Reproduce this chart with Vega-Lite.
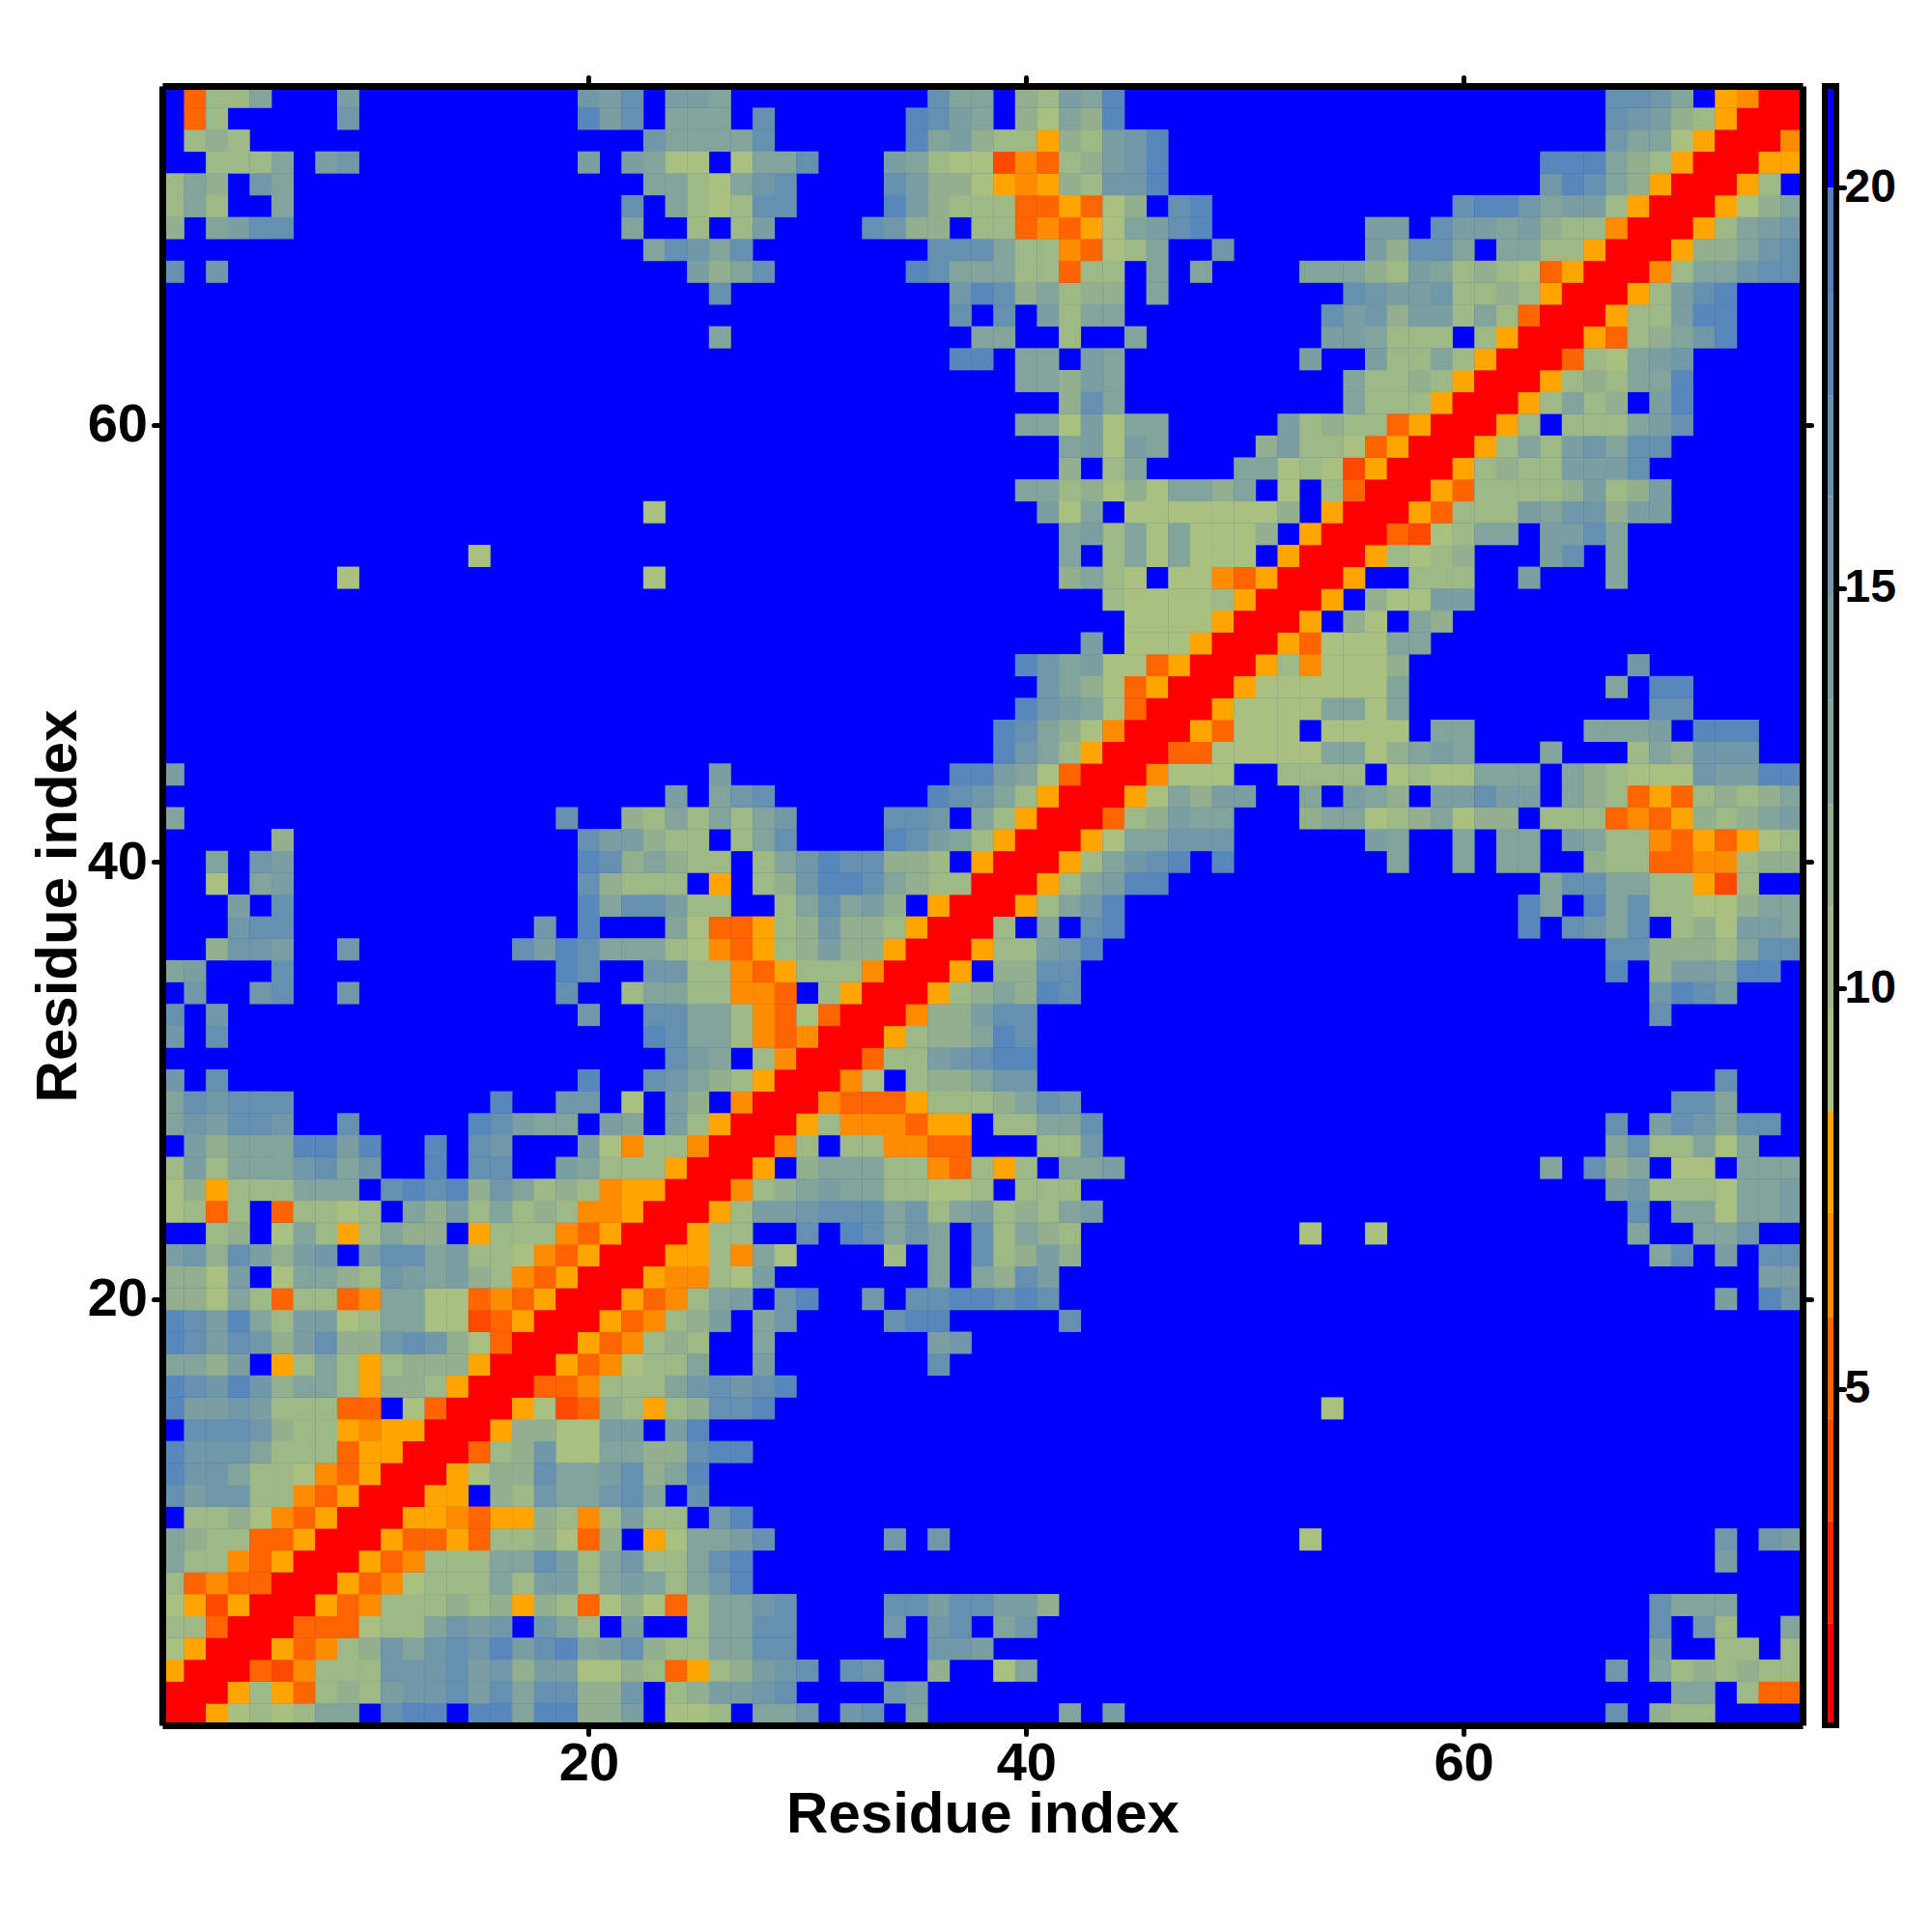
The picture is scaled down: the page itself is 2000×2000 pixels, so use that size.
{"$schema":"https://vega.github.io/schema/vega-lite/v6.json","background":"white","padding":{"left":30,"top":77,"right":0,"bottom":0},"bounds":"flush","spacing":23,
"config":{"font":"Liberation Sans","view":{"stroke":null}},
"datasets":{"bar":[{"lo":0.8,"hi":2.07,"d":1},{"lo":2.07,"hi":3.35,"d":3},{"lo":3.35,"hi":4.63,"d":4},{"lo":4.63,"hi":5.9,"d":5},{"lo":5.9,"hi":7.2,"d":6},{"lo":7.2,"hi":8.47,"d":8},{"lo":8.47,"hi":9.75,"d":9},{"lo":9.75,"hi":11.03,"d":10},{"lo":11.03,"hi":12.3,"d":12},{"lo":12.3,"hi":13.6,"d":13},{"lo":13.6,"hi":14.9,"d":14},{"lo":14.9,"hi":16.15,"d":15},{"lo":16.15,"hi":17.4,"d":17},{"lo":17.4,"hi":18.7,"d":18},{"lo":18.7,"hi":20,"d":19},{"lo":20,"hi":21.27,"d":21}],
"cells":[
{"i":1,"j":1,"d":1},{"i":2,"j":1,"d":1},{"i":3,"j":1,"d":8},{"i":4,"j":1,"d":9},{"i":5,"j":1,"d":10},{"i":6,"j":1,"d":9},{"i":7,"j":1,"d":10},{"i":8,"j":1,"d":13},{"i":9,"j":1,"d":13},{"i":11,"j":1,"d":17},{"i":12,"j":1,"d":18},{"i":13,"j":1,"d":18},{"i":15,"j":1,"d":18},{"i":16,"j":1,"d":18},{"i":17,"j":1,"d":13},{"i":18,"j":1,"d":18},{"i":19,"j":1,"d":18},{"i":20,"j":1,"d":12},{"i":21,"j":1,"d":12},{"i":22,"j":1,"d":14},{"i":24,"j":1,"d":9},{"i":25,"j":1,"d":9},{"i":26,"j":1,"d":10},{"i":28,"j":1,"d":13},{"i":29,"j":1,"d":13},{"i":30,"j":1,"d":15},{"i":32,"j":1,"d":15},{"i":33,"j":1,"d":17},{"i":35,"j":1,"d":13},{"i":42,"j":1,"d":13},{"i":44,"j":1,"d":14},{"i":67,"j":1,"d":17},{"i":69,"j":1,"d":12},{"i":70,"j":1,"d":10},{"i":71,"j":1,"d":10},
{"i":2,"j":2,"d":1},{"i":3,"j":2,"d":1},{"i":4,"j":2,"d":8},{"i":5,"j":2,"d":10},{"i":6,"j":2,"d":8},{"i":7,"j":2,"d":5},{"i":8,"j":2,"d":10},{"i":9,"j":2,"d":12},{"i":10,"j":2,"d":10},{"i":11,"j":2,"d":14},{"i":12,"j":2,"d":15},{"i":13,"j":2,"d":15},{"i":14,"j":2,"d":17},{"i":15,"j":2,"d":14},{"i":16,"j":2,"d":17},{"i":17,"j":2,"d":13},{"i":18,"j":2,"d":17},{"i":19,"j":2,"d":17},{"i":20,"j":2,"d":12},{"i":21,"j":2,"d":12},{"i":22,"j":2,"d":15},{"i":24,"j":2,"d":10},{"i":25,"j":2,"d":12},{"i":26,"j":2,"d":14},{"i":27,"j":2,"d":14},{"i":28,"j":2,"d":15},{"i":29,"j":2,"d":17},{"i":34,"j":2,"d":15},{"i":35,"j":2,"d":14},{"i":70,"j":2,"d":13},{"i":71,"j":2,"d":13},{"i":73,"j":2,"d":10},{"i":74,"j":2,"d":5},{"i":75,"j":2,"d":5},
{"i":3,"j":3,"d":1},{"i":4,"j":3,"d":1},{"i":5,"j":3,"d":5},{"i":6,"j":3,"d":4},{"i":7,"j":3,"d":6},{"i":8,"j":3,"d":10},{"i":9,"j":3,"d":10},{"i":10,"j":3,"d":10},{"i":11,"j":3,"d":15},{"i":12,"j":3,"d":15},{"i":13,"j":3,"d":15},{"i":14,"j":3,"d":17},{"i":15,"j":3,"d":14},{"i":16,"j":3,"d":15},{"i":17,"j":3,"d":12},{"i":18,"j":3,"d":14},{"i":19,"j":3,"d":14},{"i":20,"j":3,"d":9},{"i":21,"j":3,"d":9},{"i":22,"j":3,"d":12},{"i":23,"j":3,"d":10},{"i":24,"j":3,"d":5},{"i":25,"j":3,"d":8},{"i":26,"j":3,"d":10},{"i":27,"j":3,"d":12},{"i":28,"j":3,"d":14},{"i":29,"j":3,"d":15},{"i":30,"j":3,"d":17},{"i":32,"j":3,"d":17},{"i":33,"j":3,"d":15},{"i":36,"j":3,"d":12},{"i":39,"j":3,"d":9},{"i":40,"j":3,"d":13},{"i":67,"j":3,"d":15},{"i":69,"j":3,"d":13},{"i":70,"j":3,"d":10},{"i":71,"j":3,"d":12},{"i":72,"j":3,"d":10},{"i":73,"j":3,"d":12},{"i":74,"j":3,"d":10},{"i":75,"j":3,"d":10},
{"i":4,"j":4,"d":1},{"i":5,"j":4,"d":1},{"i":6,"j":4,"d":8},{"i":7,"j":4,"d":5},{"i":8,"j":4,"d":6},{"i":9,"j":4,"d":10},{"i":10,"j":4,"d":12},{"i":11,"j":4,"d":15},{"i":12,"j":4,"d":13},{"i":13,"j":4,"d":15},{"i":14,"j":4,"d":17},{"i":15,"j":4,"d":15},{"i":16,"j":4,"d":18},{"i":17,"j":4,"d":14},{"i":18,"j":4,"d":17},{"i":19,"j":4,"d":18},{"i":20,"j":4,"d":13},{"i":21,"j":4,"d":14},{"i":22,"j":4,"d":17},{"i":23,"j":4,"d":12},{"i":24,"j":4,"d":10},{"i":25,"j":4,"d":10},{"i":26,"j":4,"d":13},{"i":27,"j":4,"d":13},{"i":28,"j":4,"d":17},{"i":29,"j":4,"d":17},{"i":36,"j":4,"d":15},{"i":37,"j":4,"d":15},{"i":38,"j":4,"d":14},{"i":69,"j":4,"d":14},{"i":72,"j":4,"d":10},{"i":73,"j":4,"d":10},{"i":75,"j":4,"d":10},
{"i":5,"j":5,"d":1},{"i":6,"j":5,"d":1},{"i":7,"j":5,"d":5},{"i":8,"j":5,"d":5},{"i":9,"j":5,"d":5},{"i":10,"j":5,"d":9},{"i":11,"j":5,"d":10},{"i":12,"j":5,"d":10},{"i":13,"j":5,"d":13},{"i":14,"j":5,"d":15},{"i":15,"j":5,"d":14},{"i":16,"j":5,"d":15},{"i":18,"j":5,"d":15},{"i":19,"j":5,"d":13},{"i":20,"j":5,"d":10},{"i":22,"j":5,"d":14},{"i":25,"j":5,"d":10},{"i":26,"j":5,"d":13},{"i":27,"j":5,"d":13},{"i":28,"j":5,"d":17},{"i":29,"j":5,"d":17},{"i":34,"j":5,"d":15},{"i":36,"j":5,"d":15},{"i":37,"j":5,"d":17},{"i":39,"j":5,"d":13},{"i":40,"j":5,"d":15},{"i":69,"j":5,"d":17},{"i":71,"j":5,"d":15},{"i":72,"j":5,"d":10},{"i":75,"j":5,"d":13},
{"i":6,"j":6,"d":1},{"i":7,"j":6,"d":1},{"i":8,"j":6,"d":8},{"i":9,"j":6,"d":5},{"i":10,"j":6,"d":6},{"i":11,"j":6,"d":10},{"i":12,"j":6,"d":10},{"i":13,"j":6,"d":10},{"i":14,"j":6,"d":12},{"i":15,"j":6,"d":10},{"i":16,"j":6,"d":12},{"i":17,"j":6,"d":8},{"i":18,"j":6,"d":12},{"i":19,"j":6,"d":10},{"i":20,"j":6,"d":5},{"i":21,"j":6,"d":9},{"i":22,"j":6,"d":12},{"i":23,"j":6,"d":9},{"i":24,"j":6,"d":5},{"i":25,"j":6,"d":10},{"i":26,"j":6,"d":13},{"i":27,"j":6,"d":13},{"i":28,"j":6,"d":15},{"i":29,"j":6,"d":17},{"i":34,"j":6,"d":17},{"i":35,"j":6,"d":17},{"i":36,"j":6,"d":14},{"i":37,"j":6,"d":17},{"i":38,"j":6,"d":17},{"i":39,"j":6,"d":14},{"i":40,"j":6,"d":14},{"i":41,"j":6,"d":12},{"i":69,"j":6,"d":17},{"i":70,"j":6,"d":13},{"i":71,"j":6,"d":13},{"i":72,"j":6,"d":13},
{"i":7,"j":7,"d":1},{"i":8,"j":7,"d":1},{"i":9,"j":7,"d":8},{"i":10,"j":7,"d":5},{"i":11,"j":7,"d":6},{"i":12,"j":7,"d":9},{"i":13,"j":7,"d":10},{"i":14,"j":7,"d":10},{"i":15,"j":7,"d":10},{"i":16,"j":7,"d":13},{"i":17,"j":7,"d":10},{"i":18,"j":7,"d":14},{"i":19,"j":7,"d":14},{"i":20,"j":7,"d":10},{"i":21,"j":7,"d":13},{"i":22,"j":7,"d":14},{"i":23,"j":7,"d":13},{"i":24,"j":7,"d":10},{"i":25,"j":7,"d":13},{"i":26,"j":7,"d":15},{"i":27,"j":7,"d":18},
{"i":8,"j":8,"d":1},{"i":9,"j":8,"d":1},{"i":10,"j":8,"d":8},{"i":11,"j":8,"d":5},{"i":12,"j":8,"d":6},{"i":13,"j":8,"d":10},{"i":14,"j":8,"d":10},{"i":15,"j":8,"d":10},{"i":16,"j":8,"d":13},{"i":17,"j":8,"d":13},{"i":18,"j":8,"d":17},{"i":19,"j":8,"d":14},{"i":20,"j":8,"d":10},{"i":21,"j":8,"d":13},{"i":22,"j":8,"d":15},{"i":23,"j":8,"d":10},{"i":24,"j":8,"d":10},{"i":25,"j":8,"d":13},{"i":26,"j":8,"d":17},{"i":27,"j":8,"d":18},{"i":72,"j":8,"d":14},
{"i":9,"j":9,"d":1},{"i":10,"j":9,"d":1},{"i":11,"j":9,"d":8},{"i":12,"j":9,"d":5},{"i":13,"j":9,"d":5},{"i":14,"j":9,"d":8},{"i":15,"j":9,"d":5},{"i":16,"j":9,"d":10},{"i":17,"j":9,"d":10},{"i":18,"j":9,"d":12},{"i":19,"j":9,"d":9},{"i":20,"j":9,"d":5},{"i":21,"j":9,"d":12},{"i":23,"j":9,"d":8},{"i":24,"j":9,"d":9},{"i":25,"j":9,"d":13},{"i":26,"j":9,"d":13},{"i":27,"j":9,"d":14},{"i":28,"j":9,"d":17},{"i":34,"j":9,"d":15},{"i":36,"j":9,"d":15},{"i":53,"j":9,"d":9},{"i":72,"j":9,"d":15},{"i":74,"j":9,"d":15},{"i":75,"j":9,"d":14},
{"i":10,"j":10,"d":1},{"i":11,"j":10,"d":1},{"i":12,"j":10,"d":8},{"i":13,"j":10,"d":8},{"i":14,"j":10,"d":6},{"i":15,"j":10,"d":5},{"i":16,"j":10,"d":8},{"i":17,"j":10,"d":8},{"i":18,"j":10,"d":12},{"i":19,"j":10,"d":10},{"i":20,"j":10,"d":6},{"i":21,"j":10,"d":10},{"i":22,"j":10,"d":14},{"i":23,"j":10,"d":10},{"i":24,"j":10,"d":10},{"i":26,"j":10,"d":15},{"i":27,"j":10,"d":18},
{"i":11,"j":11,"d":1},{"i":12,"j":11,"d":1},{"i":13,"j":11,"d":8},{"i":14,"j":11,"d":8},{"i":16,"j":11,"d":12},{"i":17,"j":11,"d":10},{"i":18,"j":11,"d":15},{"i":19,"j":11,"d":13},{"i":20,"j":11,"d":13},{"i":21,"j":11,"d":15},{"i":22,"j":11,"d":17},{"i":23,"j":11,"d":13},{"i":25,"j":11,"d":17},
{"i":12,"j":12,"d":1},{"i":13,"j":12,"d":1},{"i":14,"j":12,"d":8},{"i":15,"j":12,"d":9},{"i":16,"j":12,"d":12},{"i":17,"j":12,"d":12},{"i":18,"j":12,"d":17},{"i":19,"j":12,"d":13},{"i":20,"j":12,"d":13},{"i":21,"j":12,"d":14},{"i":22,"j":12,"d":17},{"i":23,"j":12,"d":12},{"i":24,"j":12,"d":13},{"i":25,"j":12,"d":18},
{"i":13,"j":13,"d":1},{"i":14,"j":13,"d":1},{"i":15,"j":13,"d":5},{"i":16,"j":13,"d":10},{"i":17,"j":13,"d":12},{"i":18,"j":13,"d":15},{"i":19,"j":13,"d":9},{"i":20,"j":13,"d":9},{"i":21,"j":13,"d":13},{"i":22,"j":13,"d":13},{"i":23,"j":13,"d":12},{"i":24,"j":13,"d":12},{"i":25,"j":13,"d":17},{"i":26,"j":13,"d":18},{"i":27,"j":13,"d":18},
{"i":14,"j":14,"d":1},{"i":15,"j":14,"d":1},{"i":16,"j":14,"d":8},{"i":17,"j":14,"d":12},{"i":18,"j":14,"d":12},{"i":19,"j":14,"d":9},{"i":20,"j":14,"d":9},{"i":21,"j":14,"d":14},{"i":22,"j":14,"d":14},{"i":24,"j":14,"d":14},{"i":25,"j":14,"d":18},
{"i":15,"j":15,"d":1},{"i":16,"j":15,"d":1},{"i":17,"j":15,"d":8},{"i":18,"j":15,"d":9},{"i":19,"j":15,"d":4},{"i":20,"j":15,"d":5},{"i":21,"j":15,"d":12},{"i":22,"j":15,"d":10},{"i":23,"j":15,"d":8},{"i":24,"j":15,"d":10},{"i":25,"j":15,"d":12},{"i":26,"j":15,"d":17},{"i":27,"j":15,"d":17},{"i":28,"j":15,"d":18},{"i":54,"j":15,"d":9},
{"i":16,"j":16,"d":1},{"i":17,"j":16,"d":1},{"i":18,"j":16,"d":5},{"i":19,"j":16,"d":5},{"i":20,"j":16,"d":6},{"i":21,"j":16,"d":10},{"i":22,"j":16,"d":10},{"i":23,"j":16,"d":10},{"i":24,"j":16,"d":13},{"i":25,"j":16,"d":15},{"i":26,"j":16,"d":17},{"i":27,"j":16,"d":15},{"i":28,"j":16,"d":17},{"i":29,"j":16,"d":18},
{"i":17,"j":17,"d":1},{"i":18,"j":17,"d":1},{"i":19,"j":17,"d":8},{"i":20,"j":17,"d":5},{"i":21,"j":17,"d":6},{"i":22,"j":17,"d":9},{"i":23,"j":17,"d":10},{"i":24,"j":17,"d":10},{"i":25,"j":17,"d":13},{"i":28,"j":17,"d":14},{"i":36,"j":17,"d":17},
{"i":18,"j":18,"d":1},{"i":19,"j":18,"d":1},{"i":20,"j":18,"d":8},{"i":21,"j":18,"d":5},{"i":22,"j":18,"d":6},{"i":23,"j":18,"d":10},{"i":24,"j":18,"d":12},{"i":25,"j":18,"d":10},{"i":28,"j":18,"d":13},{"i":36,"j":18,"d":14},{"i":37,"j":18,"d":15},
{"i":19,"j":19,"d":1},{"i":20,"j":19,"d":1},{"i":21,"j":19,"d":8},{"i":22,"j":19,"d":5},{"i":23,"j":19,"d":6},{"i":24,"j":19,"d":10},{"i":25,"j":19,"d":12},{"i":26,"j":19,"d":14},{"i":28,"j":19,"d":13},{"i":29,"j":19,"d":15},{"i":34,"j":19,"d":17},{"i":35,"j":19,"d":18},{"i":36,"j":19,"d":18},{"i":42,"j":19,"d":17},
{"i":20,"j":20,"d":1},{"i":21,"j":20,"d":1},{"i":22,"j":20,"d":8},{"i":23,"j":20,"d":5},{"i":24,"j":20,"d":6},{"i":25,"j":20,"d":10},{"i":26,"j":20,"d":13},{"i":27,"j":20,"d":14},{"i":29,"j":20,"d":15},{"i":30,"j":20,"d":18},{"i":33,"j":20,"d":15},{"i":35,"j":20,"d":17},{"i":36,"j":20,"d":17},{"i":37,"j":20,"d":18},{"i":38,"j":20,"d":18},{"i":39,"j":20,"d":17},{"i":40,"j":20,"d":18},{"i":41,"j":20,"d":17},{"i":72,"j":20,"d":14},{"i":74,"j":20,"d":18},{"i":75,"j":20,"d":15},
{"i":21,"j":21,"d":1},{"i":22,"j":21,"d":1},{"i":23,"j":21,"d":8},{"i":24,"j":21,"d":6},{"i":25,"j":21,"d":6},{"i":26,"j":21,"d":10},{"i":27,"j":21,"d":9},{"i":28,"j":21,"d":14},{"i":36,"j":21,"d":13},{"i":38,"j":21,"d":13},{"i":39,"j":21,"d":12},{"i":40,"j":21,"d":17},{"i":41,"j":21,"d":14},{"i":74,"j":21,"d":14},{"i":75,"j":21,"d":14},
{"i":22,"j":22,"d":1},{"i":23,"j":22,"d":1},{"i":24,"j":22,"d":8},{"i":25,"j":22,"d":8},{"i":26,"j":22,"d":10},{"i":27,"j":22,"d":6},{"i":28,"j":22,"d":13},{"i":29,"j":22,"d":9},{"i":34,"j":22,"d":10},{"i":36,"j":22,"d":13},{"i":38,"j":22,"d":17},{"i":39,"j":22,"d":10},{"i":40,"j":22,"d":12},{"i":41,"j":22,"d":14},{"i":42,"j":22,"d":12},{"i":69,"j":22,"d":13},{"i":70,"j":22,"d":17},{"i":72,"j":22,"d":14},{"i":74,"j":22,"d":17},{"i":75,"j":22,"d":17},
{"i":23,"j":23,"d":1},{"i":24,"j":23,"d":1},{"i":25,"j":23,"d":8},{"i":26,"j":23,"d":10},{"i":27,"j":23,"d":10},{"i":30,"j":23,"d":17},{"i":32,"j":23,"d":18},{"i":33,"j":23,"d":17},{"i":34,"j":23,"d":13},{"i":35,"j":23,"d":15},{"i":36,"j":23,"d":13},{"i":38,"j":23,"d":17},{"i":39,"j":23,"d":10},{"i":40,"j":23,"d":13},{"i":41,"j":23,"d":12},{"i":42,"j":23,"d":10},{"i":53,"j":23,"d":9},{"i":56,"j":23,"d":9},{"i":68,"j":23,"d":13},{"i":71,"j":23,"d":13},{"i":72,"j":23,"d":13},{"i":73,"j":23,"d":15},
{"i":24,"j":24,"d":1},{"i":25,"j":24,"d":1},{"i":26,"j":24,"d":8},{"i":27,"j":24,"d":10},{"i":28,"j":24,"d":14},{"i":29,"j":24,"d":14},{"i":30,"j":24,"d":15},{"i":31,"j":24,"d":17},{"i":32,"j":24,"d":17},{"i":33,"j":24,"d":17},{"i":34,"j":24,"d":13},{"i":35,"j":24,"d":15},{"i":36,"j":24,"d":10},{"i":37,"j":24,"d":13},{"i":38,"j":24,"d":14},{"i":39,"j":24,"d":10},{"i":40,"j":24,"d":12},{"i":41,"j":24,"d":10},{"i":42,"j":24,"d":13},{"i":43,"j":24,"d":14},{"i":68,"j":24,"d":17},{"i":70,"j":24,"d":13},{"i":71,"j":24,"d":13},{"i":72,"j":24,"d":9},{"i":73,"j":24,"d":13},{"i":74,"j":24,"d":13},{"i":75,"j":24,"d":14},
{"i":25,"j":25,"d":1},{"i":26,"j":25,"d":1},{"i":27,"j":25,"d":6},{"i":28,"j":25,"d":10},{"i":29,"j":25,"d":12},{"i":30,"j":25,"d":13},{"i":31,"j":25,"d":14},{"i":32,"j":25,"d":13},{"i":33,"j":25,"d":13},{"i":34,"j":25,"d":10},{"i":35,"j":25,"d":10},{"i":36,"j":25,"d":9},{"i":37,"j":25,"d":9},{"i":38,"j":25,"d":10},{"i":40,"j":25,"d":10},{"i":41,"j":25,"d":10},{"i":42,"j":25,"d":10},{"i":67,"j":25,"d":14},{"i":68,"j":25,"d":15},{"i":69,"j":25,"d":10},{"i":70,"j":25,"d":10},{"i":71,"j":25,"d":10},{"i":72,"j":25,"d":9},{"i":73,"j":25,"d":13},{"i":74,"j":25,"d":13},{"i":75,"j":25,"d":14},
{"i":26,"j":26,"d":1},{"i":27,"j":26,"d":1},{"i":28,"j":26,"d":8},{"i":30,"j":26,"d":12},{"i":31,"j":26,"d":13},{"i":32,"j":26,"d":13},{"i":33,"j":26,"d":13},{"i":34,"j":26,"d":10},{"i":35,"j":26,"d":10},{"i":36,"j":26,"d":6},{"i":37,"j":26,"d":5},{"i":38,"j":26,"d":10},{"i":39,"j":26,"d":8},{"i":40,"j":26,"d":10},{"i":42,"j":26,"d":13},{"i":43,"j":26,"d":13},{"i":44,"j":26,"d":14},{"i":64,"j":26,"d":13},{"i":66,"j":26,"d":17},{"i":67,"j":26,"d":12},{"i":68,"j":26,"d":13},{"i":70,"j":26,"d":9},{"i":71,"j":26,"d":9},{"i":73,"j":26,"d":13},{"i":74,"j":26,"d":13},{"i":75,"j":26,"d":13},
{"i":27,"j":27,"d":1},{"i":28,"j":27,"d":1},{"i":29,"j":27,"d":6},{"i":30,"j":27,"d":10},{"i":32,"j":27,"d":10},{"i":33,"j":27,"d":10},{"i":34,"j":27,"d":6},{"i":35,"j":27,"d":6},{"i":36,"j":27,"d":5},{"i":37,"j":27,"d":5},{"i":41,"j":27,"d":10},{"i":42,"j":27,"d":10},{"i":43,"j":27,"d":15},{"i":67,"j":27,"d":13},{"i":68,"j":27,"d":17},{"i":69,"j":27,"d":10},{"i":70,"j":27,"d":10},{"i":71,"j":27,"d":13},{"i":72,"j":27,"d":9},{"i":73,"j":27,"d":13},
{"i":28,"j":28,"d":1},{"i":29,"j":28,"d":1},{"i":30,"j":28,"d":8},{"i":31,"j":28,"d":10},{"i":32,"j":28,"d":6},{"i":33,"j":28,"d":6},{"i":34,"j":28,"d":6},{"i":35,"j":28,"d":5},{"i":36,"j":28,"d":8},{"i":37,"j":28,"d":8},{"i":39,"j":28,"d":10},{"i":40,"j":28,"d":10},{"i":41,"j":28,"d":13},{"i":42,"j":28,"d":13},{"i":43,"j":28,"d":17},{"i":67,"j":28,"d":17},{"i":69,"j":28,"d":14},{"i":70,"j":28,"d":17},{"i":71,"j":28,"d":15},{"i":72,"j":28,"d":13},{"i":73,"j":28,"d":17},{"i":74,"j":28,"d":17},
{"i":29,"j":29,"d":1},{"i":30,"j":29,"d":1},{"i":31,"j":29,"d":6},{"i":32,"j":29,"d":5},{"i":33,"j":29,"d":5},{"i":34,"j":29,"d":5},{"i":35,"j":29,"d":8},{"i":36,"j":29,"d":10},{"i":37,"j":29,"d":10},{"i":38,"j":29,"d":10},{"i":39,"j":29,"d":12},{"i":40,"j":29,"d":13},{"i":41,"j":29,"d":17},{"i":42,"j":29,"d":15},{"i":70,"j":29,"d":17},{"i":71,"j":29,"d":17},{"i":72,"j":29,"d":13},
{"i":30,"j":30,"d":1},{"i":31,"j":30,"d":1},{"i":32,"j":30,"d":6},{"i":33,"j":30,"d":9},{"i":35,"j":30,"d":10},{"i":36,"j":30,"d":12},{"i":37,"j":30,"d":12},{"i":38,"j":30,"d":13},{"i":39,"j":30,"d":15},{"i":40,"j":30,"d":15},{"i":72,"j":30,"d":17},
{"i":31,"j":31,"d":1},{"i":32,"j":31,"d":1},{"i":33,"j":31,"d":5},{"i":34,"j":31,"d":10},{"i":35,"j":31,"d":10},{"i":36,"j":31,"d":14},{"i":37,"j":31,"d":15},{"i":38,"j":31,"d":17},{"i":39,"j":31,"d":18},{"i":40,"j":31,"d":18},
{"i":32,"j":32,"d":1},{"i":33,"j":32,"d":1},{"i":34,"j":32,"d":8},{"i":35,"j":32,"d":10},{"i":36,"j":32,"d":12},{"i":37,"j":32,"d":12},{"i":38,"j":32,"d":13},{"i":39,"j":32,"d":18},{"i":40,"j":32,"d":17},
{"i":33,"j":33,"d":1},{"i":34,"j":33,"d":1},{"i":35,"j":33,"d":6},{"i":36,"j":33,"d":12},{"i":37,"j":33,"d":12},{"i":38,"j":33,"d":14},{"i":39,"j":33,"d":17},{"i":40,"j":33,"d":17},{"i":69,"j":33,"d":17},
{"i":34,"j":34,"d":1},{"i":35,"j":34,"d":1},{"i":36,"j":34,"d":8},{"i":37,"j":34,"d":10},{"i":38,"j":34,"d":12},{"i":39,"j":34,"d":13},{"i":40,"j":34,"d":12},{"i":41,"j":34,"d":18},{"i":42,"j":34,"d":17},{"i":69,"j":34,"d":15},{"i":70,"j":34,"d":18},{"i":71,"j":34,"d":17},{"i":72,"j":34,"d":14},
{"i":35,"j":35,"d":1},{"i":36,"j":35,"d":1},{"i":37,"j":35,"d":8},{"i":39,"j":35,"d":12},{"i":40,"j":35,"d":12},{"i":41,"j":35,"d":17},{"i":42,"j":35,"d":17},{"i":67,"j":35,"d":18},{"i":69,"j":35,"d":12},{"i":70,"j":35,"d":14},{"i":71,"j":35,"d":14},{"i":72,"j":35,"d":13},{"i":73,"j":35,"d":18},{"i":74,"j":35,"d":18},
{"i":36,"j":36,"d":1},{"i":37,"j":36,"d":1},{"i":38,"j":36,"d":8},{"i":39,"j":36,"d":10},{"i":40,"j":36,"d":10},{"i":41,"j":36,"d":14},{"i":42,"j":36,"d":15},{"i":43,"j":36,"d":18},{"i":67,"j":36,"d":17},{"i":68,"j":36,"d":17},{"i":69,"j":36,"d":12},{"i":70,"j":36,"d":12},{"i":71,"j":36,"d":12},{"i":72,"j":36,"d":10},{"i":73,"j":36,"d":13},{"i":74,"j":36,"d":17},{"i":75,"j":36,"d":17},
{"i":37,"j":37,"d":1},{"i":38,"j":37,"d":1},{"i":39,"j":37,"d":10},{"i":41,"j":37,"d":13},{"i":43,"j":37,"d":17},{"i":44,"j":37,"d":18},{"i":63,"j":37,"d":18},{"i":65,"j":37,"d":17},{"i":66,"j":37,"d":15},{"i":67,"j":37,"d":13},{"i":68,"j":37,"d":17},{"i":70,"j":37,"d":10},{"i":71,"j":37,"d":12},{"i":72,"j":37,"d":9},{"i":73,"j":37,"d":14},{"i":74,"j":37,"d":14},{"i":75,"j":37,"d":13},
{"i":38,"j":38,"d":1},{"i":39,"j":38,"d":1},{"i":40,"j":38,"d":8},{"i":41,"j":38,"d":10},{"i":42,"j":38,"d":13},{"i":43,"j":38,"d":15},{"i":44,"j":38,"d":18},{"i":63,"j":38,"d":18},{"i":64,"j":38,"d":13},{"i":66,"j":38,"d":18},{"i":67,"j":38,"d":13},{"i":68,"j":38,"d":17},{"i":69,"j":38,"d":10},{"i":70,"j":38,"d":10},{"i":71,"j":38,"d":9},{"i":72,"j":38,"d":9},{"i":73,"j":38,"d":12},{"i":74,"j":38,"d":13},{"i":75,"j":38,"d":13},
{"i":39,"j":39,"d":1},{"i":40,"j":39,"d":1},{"i":41,"j":39,"d":8},{"i":42,"j":39,"d":10},{"i":43,"j":39,"d":13},{"i":44,"j":39,"d":14},{"i":45,"j":39,"d":18},{"i":46,"j":39,"d":18},{"i":64,"j":39,"d":13},{"i":65,"j":39,"d":17},{"i":66,"j":39,"d":17},{"i":67,"j":39,"d":13},{"i":68,"j":39,"d":13},{"i":69,"j":39,"d":10},{"i":70,"j":39,"d":10},{"i":71,"j":39,"d":8},{"i":72,"j":39,"d":4},{"i":73,"j":39,"d":10},
{"i":40,"j":40,"d":1},{"i":41,"j":40,"d":1},{"i":42,"j":40,"d":8},{"i":43,"j":40,"d":10},{"i":44,"j":40,"d":13},{"i":45,"j":40,"d":15},{"i":46,"j":40,"d":17},{"i":47,"j":40,"d":18},{"i":49,"j":40,"d":18},{"i":57,"j":40,"d":13},{"i":60,"j":40,"d":13},{"i":62,"j":40,"d":13},{"i":63,"j":40,"d":13},{"i":66,"j":40,"d":12},{"i":67,"j":40,"d":10},{"i":68,"j":40,"d":10},{"i":69,"j":40,"d":5},{"i":70,"j":40,"d":5},{"i":71,"j":40,"d":6},{"i":72,"j":40,"d":6},{"i":73,"j":40,"d":10},{"i":74,"j":40,"d":12},{"i":75,"j":40,"d":12},
{"i":41,"j":41,"d":1},{"i":42,"j":41,"d":1},{"i":43,"j":41,"d":8},{"i":44,"j":41,"d":9},{"i":45,"j":41,"d":13},{"i":46,"j":41,"d":13},{"i":47,"j":41,"d":15},{"i":48,"j":41,"d":15},{"i":49,"j":41,"d":15},{"i":56,"j":41,"d":14},{"i":57,"j":41,"d":13},{"i":60,"j":41,"d":13},{"i":62,"j":41,"d":13},{"i":63,"j":41,"d":13},{"i":65,"j":41,"d":14},{"i":66,"j":41,"d":13},{"i":67,"j":41,"d":10},{"i":68,"j":41,"d":10},{"i":69,"j":41,"d":6},{"i":70,"j":41,"d":5},{"i":71,"j":41,"d":8},{"i":72,"j":41,"d":5},{"i":73,"j":41,"d":8},{"i":74,"j":41,"d":9},{"i":75,"j":41,"d":10},
{"i":42,"j":42,"d":1},{"i":43,"j":42,"d":1},{"i":44,"j":42,"d":5},{"i":45,"j":42,"d":10},{"i":46,"j":42,"d":12},{"i":47,"j":42,"d":14},{"i":48,"j":42,"d":13},{"i":49,"j":42,"d":13},{"i":53,"j":42,"d":12},{"i":54,"j":42,"d":13},{"i":55,"j":42,"d":13},{"i":56,"j":42,"d":9},{"i":57,"j":42,"d":10},{"i":58,"j":42,"d":12},{"i":59,"j":42,"d":13},{"i":60,"j":42,"d":9},{"i":61,"j":42,"d":12},{"i":62,"j":42,"d":12},{"i":64,"j":42,"d":10},{"i":65,"j":42,"d":10},{"i":66,"j":42,"d":10},{"i":67,"j":42,"d":5},{"i":68,"j":42,"d":6},{"i":69,"j":42,"d":5},{"i":70,"j":42,"d":8},{"i":71,"j":42,"d":12},{"i":72,"j":42,"d":10},{"i":73,"j":42,"d":12},{"i":74,"j":42,"d":13},{"i":75,"j":42,"d":14},
{"i":43,"j":43,"d":1},{"i":44,"j":43,"d":1},{"i":45,"j":43,"d":8},{"i":46,"j":43,"d":9},{"i":47,"j":43,"d":13},{"i":48,"j":43,"d":12},{"i":49,"j":43,"d":14},{"i":50,"j":43,"d":14},{"i":53,"j":43,"d":13},{"i":55,"j":43,"d":14},{"i":56,"j":43,"d":13},{"i":57,"j":43,"d":12},{"i":59,"j":43,"d":14},{"i":60,"j":43,"d":14},{"i":61,"j":43,"d":17},{"i":62,"j":43,"d":14},{"i":63,"j":43,"d":14},{"i":65,"j":43,"d":13},{"i":66,"j":43,"d":12},{"i":67,"j":43,"d":10},{"i":68,"j":43,"d":5},{"i":69,"j":43,"d":8},{"i":70,"j":43,"d":5},{"i":71,"j":43,"d":10},{"i":72,"j":43,"d":12},{"i":73,"j":43,"d":10},{"i":74,"j":43,"d":12},{"i":75,"j":43,"d":13},
{"i":44,"j":44,"d":1},{"i":45,"j":44,"d":1},{"i":46,"j":44,"d":6},{"i":47,"j":44,"d":9},{"i":48,"j":44,"d":9},{"i":49,"j":44,"d":9},{"i":52,"j":44,"d":10},{"i":53,"j":44,"d":10},{"i":54,"j":44,"d":10},{"i":55,"j":44,"d":10},{"i":57,"j":44,"d":9},{"i":58,"j":44,"d":10},{"i":59,"j":44,"d":9},{"i":60,"j":44,"d":9},{"i":61,"j":44,"d":13},{"i":62,"j":44,"d":13},{"i":63,"j":44,"d":13},{"i":65,"j":44,"d":13},{"i":66,"j":44,"d":12},{"i":67,"j":44,"d":10},{"i":68,"j":44,"d":9},{"i":69,"j":44,"d":9},{"i":70,"j":44,"d":9},{"i":71,"j":44,"d":15},{"i":72,"j":44,"d":14},{"i":73,"j":44,"d":14},{"i":74,"j":44,"d":18},{"i":75,"j":44,"d":18},
{"i":45,"j":45,"d":1},{"i":46,"j":45,"d":1},{"i":47,"j":45,"d":5},{"i":48,"j":45,"d":5},{"i":49,"j":45,"d":9},{"i":50,"j":45,"d":9},{"i":51,"j":45,"d":9},{"i":52,"j":45,"d":9},{"i":53,"j":45,"d":9},{"i":54,"j":45,"d":13},{"i":55,"j":45,"d":13},{"i":56,"j":45,"d":9},{"i":57,"j":45,"d":12},{"i":58,"j":45,"d":13},{"i":59,"j":45,"d":14},{"i":60,"j":45,"d":13},{"i":64,"j":45,"d":13},{"i":68,"j":45,"d":10},{"i":69,"j":45,"d":13},{"i":70,"j":45,"d":12},{"i":71,"j":45,"d":15},{"i":72,"j":45,"d":15},{"i":73,"j":45,"d":15},
{"i":46,"j":46,"d":1},{"i":47,"j":46,"d":1},{"i":48,"j":46,"d":8},{"i":49,"j":46,"d":5},{"i":50,"j":46,"d":9},{"i":51,"j":46,"d":9},{"i":52,"j":46,"d":9},{"i":54,"j":46,"d":9},{"i":55,"j":46,"d":9},{"i":56,"j":46,"d":9},{"i":57,"j":46,"d":9},{"i":59,"j":46,"d":13},{"i":60,"j":46,"d":13},{"i":66,"j":46,"d":13},{"i":67,"j":46,"d":13},{"i":68,"j":46,"d":13},{"i":69,"j":46,"d":14},{"i":71,"j":46,"d":18},{"i":72,"j":46,"d":18},{"i":73,"j":46,"d":18},
{"i":47,"j":47,"d":1},{"i":48,"j":47,"d":1},{"i":49,"j":47,"d":8},{"i":50,"j":47,"d":9},{"i":51,"j":47,"d":9},{"i":52,"j":47,"d":9},{"i":53,"j":47,"d":9},{"i":54,"j":47,"d":13},{"i":55,"j":47,"d":13},{"i":56,"j":47,"d":9},{"i":57,"j":47,"d":13},{"i":69,"j":47,"d":17},{"i":70,"j":47,"d":17},
{"i":48,"j":48,"d":1},{"i":49,"j":48,"d":1},{"i":50,"j":48,"d":8},{"i":51,"j":48,"d":9},{"i":52,"j":48,"d":9},{"i":53,"j":48,"d":9},{"i":54,"j":48,"d":9},{"i":55,"j":48,"d":9},{"i":56,"j":48,"d":9},{"i":57,"j":48,"d":13},{"i":67,"j":48,"d":13},{"i":69,"j":48,"d":18},{"i":70,"j":48,"d":18},
{"i":49,"j":49,"d":1},{"i":50,"j":49,"d":1},{"i":51,"j":49,"d":8},{"i":52,"j":49,"d":10},{"i":53,"j":49,"d":6},{"i":54,"j":49,"d":9},{"i":55,"j":49,"d":9},{"i":56,"j":49,"d":9},{"i":57,"j":49,"d":12},{"i":68,"j":49,"d":15},
{"i":50,"j":50,"d":1},{"i":51,"j":50,"d":1},{"i":52,"j":50,"d":8},{"i":53,"j":50,"d":5},{"i":54,"j":50,"d":9},{"i":55,"j":50,"d":9},{"i":56,"j":50,"d":9},{"i":57,"j":50,"d":13},{"i":58,"j":50,"d":13},
{"i":51,"j":51,"d":1},{"i":52,"j":51,"d":1},{"i":53,"j":51,"d":8},{"i":55,"j":51,"d":12},{"i":56,"j":51,"d":9},{"i":58,"j":51,"d":13},{"i":59,"j":51,"d":12},
{"i":52,"j":52,"d":1},{"i":53,"j":52,"d":1},{"i":54,"j":52,"d":8},{"i":56,"j":52,"d":12},{"i":57,"j":52,"d":9},{"i":58,"j":52,"d":9},{"i":59,"j":52,"d":14},{"i":60,"j":52,"d":14},
{"i":53,"j":53,"d":1},{"i":54,"j":53,"d":1},{"i":55,"j":53,"d":8},{"i":58,"j":53,"d":10},{"i":59,"j":53,"d":10},{"i":60,"j":53,"d":10},{"i":63,"j":53,"d":14},{"i":67,"j":53,"d":13},
{"i":54,"j":54,"d":1},{"i":55,"j":54,"d":1},{"i":56,"j":54,"d":8},{"i":57,"j":54,"d":10},{"i":58,"j":54,"d":9},{"i":59,"j":54,"d":10},{"i":60,"j":54,"d":12},{"i":64,"j":54,"d":14},{"i":65,"j":54,"d":17},{"i":67,"j":54,"d":13},
{"i":55,"j":55,"d":1},{"i":56,"j":55,"d":1},{"i":57,"j":55,"d":5},{"i":58,"j":55,"d":4},{"i":59,"j":55,"d":9},{"i":60,"j":55,"d":10},{"i":61,"j":55,"d":13},{"i":62,"j":55,"d":13},{"i":64,"j":55,"d":14},{"i":65,"j":55,"d":14},{"i":66,"j":55,"d":17},{"i":67,"j":55,"d":13},
{"i":56,"j":56,"d":1},{"i":57,"j":56,"d":1},{"i":58,"j":56,"d":8},{"i":59,"j":56,"d":5},{"i":60,"j":56,"d":10},{"i":61,"j":56,"d":10},{"i":62,"j":56,"d":10},{"i":63,"j":56,"d":14},{"i":64,"j":56,"d":13},{"i":65,"j":56,"d":15},{"i":66,"j":56,"d":15},{"i":67,"j":56,"d":12},{"i":68,"j":56,"d":14},{"i":69,"j":56,"d":14},
{"i":57,"j":57,"d":1},{"i":58,"j":57,"d":1},{"i":59,"j":57,"d":8},{"i":60,"j":57,"d":5},{"i":61,"j":57,"d":10},{"i":62,"j":57,"d":10},{"i":63,"j":57,"d":10},{"i":64,"j":57,"d":10},{"i":65,"j":57,"d":12},{"i":66,"j":57,"d":14},{"i":67,"j":57,"d":10},{"i":68,"j":57,"d":12},{"i":69,"j":57,"d":14},
{"i":58,"j":58,"d":1},{"i":59,"j":58,"d":1},{"i":60,"j":58,"d":8},{"i":61,"j":58,"d":10},{"i":62,"j":58,"d":12},{"i":63,"j":58,"d":10},{"i":64,"j":58,"d":10},{"i":65,"j":58,"d":14},{"i":66,"j":58,"d":14},{"i":67,"j":58,"d":14},{"i":68,"j":58,"d":17},
{"i":59,"j":59,"d":1},{"i":60,"j":59,"d":1},{"i":61,"j":59,"d":8},{"i":62,"j":59,"d":10},{"i":63,"j":59,"d":13},{"i":64,"j":59,"d":10},{"i":65,"j":59,"d":14},{"i":66,"j":59,"d":15},{"i":67,"j":59,"d":13},{"i":68,"j":59,"d":17},{"i":69,"j":59,"d":17},
{"i":60,"j":60,"d":1},{"i":61,"j":60,"d":1},{"i":62,"j":60,"d":8},{"i":63,"j":60,"d":10},{"i":65,"j":60,"d":10},{"i":66,"j":60,"d":10},{"i":67,"j":60,"d":10},{"i":68,"j":60,"d":13},{"i":69,"j":60,"d":14},{"i":70,"j":60,"d":17},
{"i":61,"j":61,"d":1},{"i":62,"j":61,"d":1},{"i":63,"j":61,"d":8},{"i":64,"j":61,"d":10},{"i":65,"j":61,"d":13},{"i":66,"j":61,"d":10},{"i":67,"j":61,"d":12},{"i":69,"j":61,"d":14},{"i":70,"j":61,"d":18},
{"i":62,"j":62,"d":1},{"i":63,"j":62,"d":1},{"i":64,"j":62,"d":8},{"i":65,"j":62,"d":10},{"i":66,"j":62,"d":12},{"i":67,"j":62,"d":10},{"i":68,"j":62,"d":13},{"i":69,"j":62,"d":13},{"i":70,"j":62,"d":18},
{"i":63,"j":63,"d":1},{"i":64,"j":63,"d":1},{"i":65,"j":63,"d":5},{"i":66,"j":63,"d":10},{"i":67,"j":63,"d":9},{"i":68,"j":63,"d":13},{"i":69,"j":63,"d":14},{"i":70,"j":63,"d":15},
{"i":64,"j":64,"d":1},{"i":65,"j":64,"d":1},{"i":66,"j":64,"d":8},{"i":67,"j":64,"d":5},{"i":68,"j":64,"d":10},{"i":69,"j":64,"d":12},{"i":70,"j":64,"d":13},{"i":71,"j":64,"d":15},{"i":72,"j":64,"d":18},
{"i":65,"j":65,"d":1},{"i":66,"j":65,"d":1},{"i":67,"j":65,"d":8},{"i":68,"j":65,"d":10},{"i":69,"j":65,"d":10},{"i":70,"j":65,"d":14},{"i":71,"j":65,"d":18},{"i":72,"j":65,"d":18},
{"i":66,"j":66,"d":1},{"i":67,"j":66,"d":1},{"i":68,"j":66,"d":8},{"i":69,"j":66,"d":10},{"i":70,"j":66,"d":14},{"i":71,"j":66,"d":17},{"i":72,"j":66,"d":18},
{"i":67,"j":67,"d":1},{"i":68,"j":67,"d":1},{"i":69,"j":67,"d":6},{"i":70,"j":67,"d":10},{"i":71,"j":67,"d":13},{"i":72,"j":67,"d":13},{"i":73,"j":67,"d":15},{"i":74,"j":67,"d":17},{"i":75,"j":67,"d":17},
{"i":68,"j":68,"d":1},{"i":69,"j":68,"d":1},{"i":70,"j":68,"d":8},{"i":71,"j":68,"d":12},{"i":72,"j":68,"d":12},{"i":73,"j":68,"d":13},{"i":74,"j":68,"d":15},{"i":75,"j":68,"d":17},
{"i":69,"j":69,"d":1},{"i":70,"j":69,"d":1},{"i":71,"j":69,"d":8},{"i":72,"j":69,"d":10},{"i":73,"j":69,"d":13},{"i":74,"j":69,"d":14},{"i":75,"j":69,"d":15},
{"i":70,"j":70,"d":1},{"i":71,"j":70,"d":1},{"i":72,"j":70,"d":8},{"i":73,"j":70,"d":9},{"i":74,"j":70,"d":12},{"i":75,"j":70,"d":13},
{"i":71,"j":71,"d":1},{"i":72,"j":71,"d":1},{"i":73,"j":71,"d":8},{"i":74,"j":71,"d":10},
{"i":72,"j":72,"d":1},{"i":73,"j":72,"d":1},{"i":74,"j":72,"d":8},{"i":75,"j":72,"d":8},
{"i":73,"j":73,"d":1},{"i":74,"j":73,"d":1},{"i":75,"j":73,"d":6},
{"i":74,"j":74,"d":1},{"i":75,"j":74,"d":1},
{"i":75,"j":75,"d":1}
]},
"hconcat":[
{"width":1698,"height":1697,"view":{"fill":"#0000ff","stroke":null},"data":{"name":"cells"},
"resolve":{"axis":{"x":"independent","y":"independent"}},
"layer":[
{"mark":{"type":"rect","width":23,"height":23},
"encoding":{"x":{"field":"i","type":"quantitative","scale":{"domain":[0.5,75.5],"nice":false,"zero":false},"axis":{"orient":"bottom","values":[20,40,60],"title":"Residue index","titleFontSize":60,"titleFontWeight":"bold","titleColor":"black","titlePadding":-4,"labelFontSize":56,"labelFontWeight":"bold","labelColor":"black","labelPadding":3.5,"labelFlush":false,"grid":false,"domainColor":"black","domainWidth":7,"tickColor":"black","tickWidth":5,"tickSize":9,"tickCap":"round","zindex":1}},
"y":{"field":"j","type":"quantitative","scale":{"domain":[0.5,75.5],"nice":false,"zero":false},"axis":{"orient":"left","values":[20,40,60],"title":"Residue index","titleFontSize":60,"titleFontWeight":"bold","titleColor":"black","titlePadding":-1,"labelFontSize":56,"labelFontWeight":"bold","labelColor":"black","labelPadding":6.5,"labelFlush":false,"grid":false,"domainColor":"black","domainWidth":7,"tickColor":"black","tickWidth":5,"tickSize":9,"tickCap":"round","zindex":1}},
"color":{"field":"d","type":"quantitative","legend":null,"scale":{"type":"threshold","domain":[2.07,3.35,4.63,5.9,7.2,8.47,9.75,11.03,12.3,13.6,14.9,16.15,17.4,18.7,20],"range":["#ff0000","#ff2400","#ff4800","#ff6400","#ff8c00","#ffa500","#a8c080","#9eb986","#93b08e","#82a49a","#7a9ea2","#7198a8","#6690b0","#5787bb","#5080c0","#0000ff"]}}}},
{"mark":{"type":"rect","width":23,"height":23},
"encoding":{"x":{"field":"j","type":"quantitative","scale":{"domain":[0.5,75.5],"nice":false,"zero":false},"axis":{"orient":"top","values":[20,40,60],"title":null,"labels":false,"grid":false,"domainColor":"black","domainWidth":7,"tickColor":"black","tickWidth":5,"tickSize":9,"tickCap":"round","zindex":1}},
"y":{"field":"i","type":"quantitative","scale":{"domain":[0.5,75.5],"nice":false,"zero":false},"axis":{"orient":"right","values":[20,40,60],"title":null,"labels":false,"grid":false,"domainColor":"black","domainWidth":7,"tickColor":"black","tickWidth":5,"tickSize":9,"tickCap":"round","zindex":1}},
"color":{"field":"d","type":"quantitative","legend":null,"scale":{"type":"threshold","domain":[2.07,3.35,4.63,5.9,7.2,8.47,9.75,11.03,12.3,13.6,14.9,16.15,17.4,18.7,20],"range":["#ff0000","#ff2400","#ff4800","#ff6400","#ff8c00","#ffa500","#a8c080","#9eb986","#93b08e","#82a49a","#7a9ea2","#7198a8","#6690b0","#5787bb","#5080c0","#0000ff"]}}}}
]},
{"width":12,"height":1697,"data":{"name":"bar"},
"layer":[
{"mark":{"type":"rect"},
"encoding":{"y":{"field":"lo","type":"quantitative","scale":{"domain":[0.8,21.27],"nice":false,"zero":false},"axis":{"orient":"right","values":[5,10,15,20],"format":"d","title":null,"labelFontSize":48,"labelFontWeight":"bold","labelColor":"black","labelPadding":0,"labelFlush":false,"grid":false,"domain":false,"tickColor":"black","tickWidth":5,"tickSize":8,"tickCap":"round"}},"y2":{"field":"hi"},
"color":{"field":"d","type":"quantitative","legend":null,"scale":{"type":"threshold","domain":[2.07,3.35,4.63,5.9,7.2,8.47,9.75,11.03,12.3,13.6,14.9,16.15,17.4,18.7,20],"range":["#ff0000","#ff2400","#ff4800","#ff6400","#ff8c00","#ffa500","#a8c080","#9eb986","#93b08e","#82a49a","#7a9ea2","#7198a8","#6690b0","#5787bb","#5080c0","#0000ff"]}}}},
{"data":{"values":[{"lo":0.8,"hi":21.27}]},"mark":{"type":"rect","fill":null,"stroke":"black","strokeWidth":6},
"encoding":{"y":{"field":"lo","type":"quantitative"},"y2":{"field":"hi"}}}
]}
]}
